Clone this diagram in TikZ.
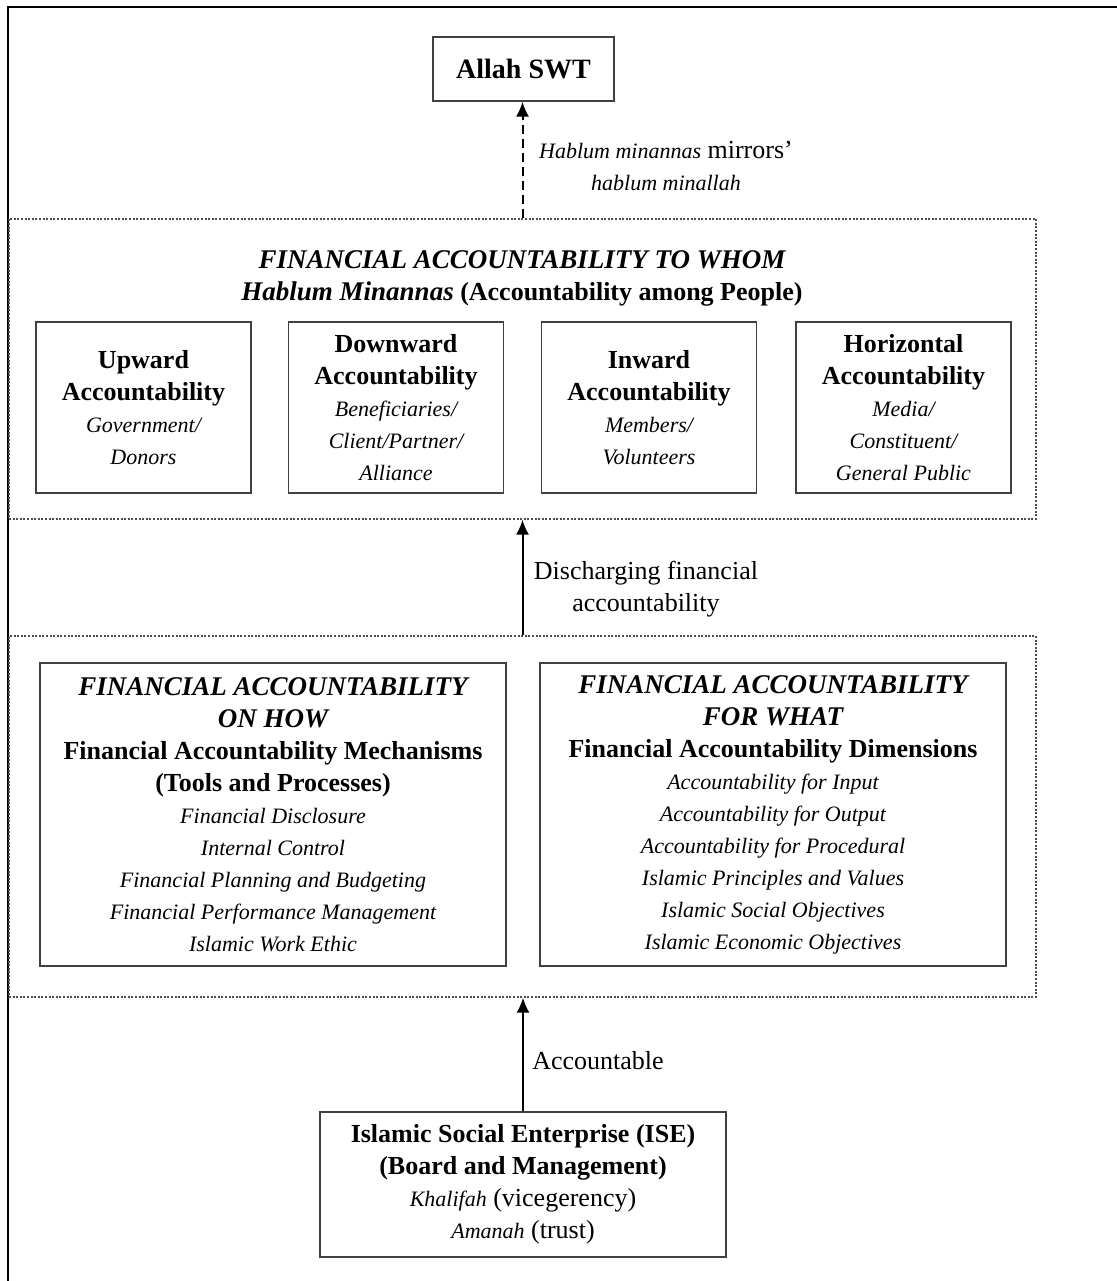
\documentclass[tikz,border=0pt]{standalone}
\usepackage{fontspec}
\setmainfont{Liberation Serif}
\usetikzlibrary{arrows.meta}
\newcommand{\itx}[1]{{\fontsize{11}{16}\selectfont\itshape #1}}
\newcommand{\bitx}[1]{{\fontsize{13.5}{16}\selectfont\bfseries\itshape #1}}
\begin{document}
\begin{tikzpicture}[x=0.5pt,y=-0.5pt,
    font=\fontsize{13}{16}\selectfont,
    box/.style={draw=black!75,line width=0.6pt,align=center,inner sep=0pt},
    dotbox/.style={draw=black!70,line width=0.6pt,dash pattern=on 1pt off 0.8pt,inner sep=0pt},
    lbl/.style={align=center,inner sep=0pt},
    arr/.style={-{Latex[length=7.5pt,width=6.5pt]},line width=1pt}]
    \useasboundingbox (0,0) rectangle (1117,1281);
    \draw[line width=1pt] (7.5,1290)--(7.5,6.5)--(1125,6.5);

    % top
    \node[box,minimum width=90.5pt,minimum height=32pt,font=\fontsize{14}{16}\selectfont\bfseries](allah)at(523.5,69){Allah SWT};

    % to whom
    \node[dotbox,minimum width=513.5pt,minimum height=150pt](whom)at(522.5,369){};
    \node[lbl](whomtitle)at(522,278){\bitx{FINANCIAL ACCOUNTABILITY TO WHOM}\\\bitx{Hablum Minannas} \textbf{(Accountability among People)}};
    \node[box,minimum width=107.5pt,minimum height=85.5pt](up)at(143.5,407.5){\textbf{Upward}\\\textbf{Accountability}\\\itx{Government/}\\\itx{Donors}};
    \node[box,minimum width=107.5pt,minimum height=85.5pt](down)at(396,407.5){\textbf{Downward}\\\textbf{Accountability}\\\itx{Beneficiaries/}\\\itx{Client/Partner/}\\\itx{Alliance}};
    \node[box,minimum width=107.5pt,minimum height=85.5pt](in)at(649,407.5){\textbf{Inward}\\\textbf{Accountability}\\\itx{Members/}\\\itx{Volunteers}};
    \node[box,minimum width=107.5pt,minimum height=85.5pt](horiz)at(903.5,407.5){\textbf{Horizontal}\\\textbf{Accountability}\\\itx{Media/}\\\itx{Constituent/}\\\itx{General Public}};

    % on how / for what
    \node[dotbox,minimum width=513.5pt,minimum height=180.5pt](how)at(522.5,816.5){};
    \node[box,minimum width=233pt,minimum height=151.5pt](mech)at(273,814.5){\bitx{FINANCIAL ACCOUNTABILITY}\\\bitx{ON HOW}\\\textbf{Financial Accountability Mechanisms}\\\textbf{(Tools and Processes)}\\\itx{Financial Disclosure}\\\itx{Internal Control}\\\itx{Financial Planning and Budgeting}\\\itx{Financial Performance Management}\\\itx{Islamic Work Ethic}};
    \node[box,minimum width=233pt,minimum height=151.5pt](dim)at(773,814.5){\bitx{FINANCIAL ACCOUNTABILITY}\\\bitx{FOR WHAT}\\\textbf{Financial Accountability Dimensions}\\\itx{Accountability for Input}\\\itx{Accountability for Output}\\\itx{Accountability for Procedural}\\\itx{Islamic Principles and Values}\\\itx{Islamic Social Objectives}\\\itx{Islamic Economic Objectives}};

    % bottom
    \node[box,minimum width=203pt,minimum height=72.5pt](ise)at(523,1184.5){\textbf{Islamic Social Enterprise (ISE)}\\\textbf{(Board and Management)}\\\itx{Khalifah} (vicegerency)\\\itx{Amanah} (trust)};

    \draw[arr,dash pattern=on 4.5pt off 2.5pt] (whom.north)--(whom.north |- allah.south);
    \draw[arr] (how.north)--(whom.south);
    \draw[arr] (ise.north)--(ise.north |- how.south);

    \node[lbl](mirror)at(666,166){\itx{Hablum minannas} mirrors'\\\itx{hablum minallah}};
    \node[lbl](discharge)at(646,589.5){Discharging financial\\accountability};
    \node[lbl](acc)at(598,1061){Accountable};
\end{tikzpicture}
\end{document}
